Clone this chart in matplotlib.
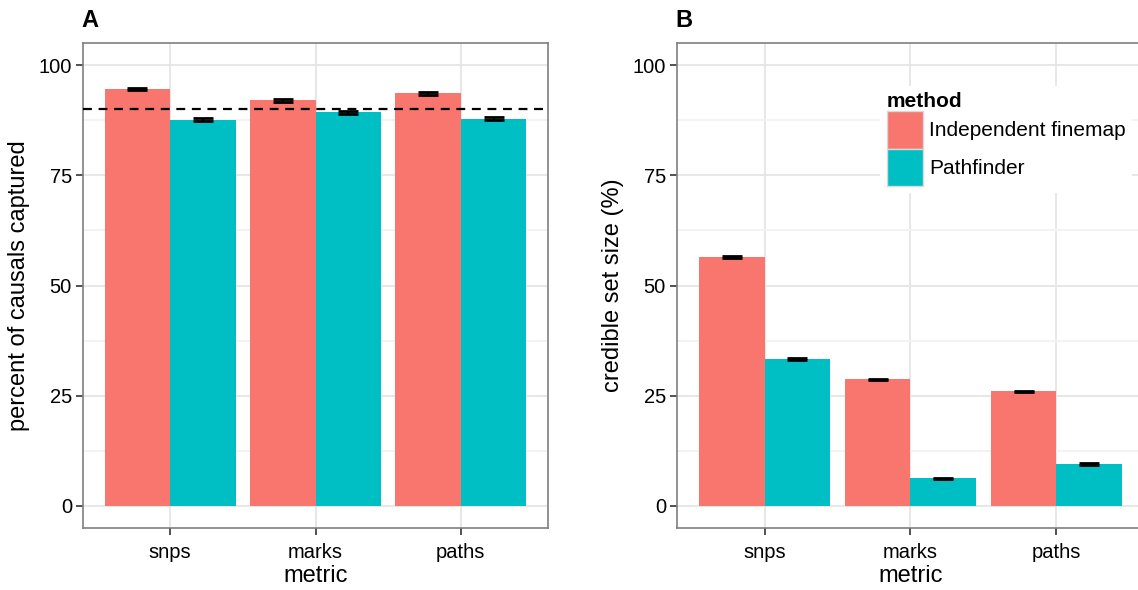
import numpy as np
import matplotlib.pyplot as plt
from matplotlib.patches import Patch

plt.rcParams['font.family'] = ['Liberation Sans', 'DejaVu Sans']

metrics = ['snps', 'marks', 'paths']
methods = ['Independent finemap', 'Pathfinder']
colors = ['#F8766D', '#00BFC4']

# panel A: percent of causals captured
captured = {'Independent finemap': [94.6, 92.0, 93.6],
            'Pathfinder': [87.6, 89.3, 87.8]}
captured_err = {'Independent finemap': [0.3, 0.4, 0.4],
                'Pathfinder': [0.4, 0.35, 0.35]}

# panel B: credible set size (%)
setsize = {'Independent finemap': [56.4, 28.7, 26.0],
           'Pathfinder': [33.3, 6.3, 9.5]}
setsize_err = {'Independent finemap': [0.25, 0.15, 0.15],
               'Pathfinder': [0.2, 0.15, 0.15]}

target = 90

W, H = 1138, 590
fig = plt.figure(figsize=(W / 100, H / 100), dpi=100)


def px_axes(l, r, t, b):
    return fig.add_axes([l / W, 1 - b / H, (r - l) / W, (b - t) / H])


def draw_panel(ax, vals, errs, ylabel, letter):
    x = np.arange(1, len(metrics) + 1)
    w = 0.45
    for i, m in enumerate(methods):
        pos = x + (i - 0.5) * w
        ax.bar(pos, vals[m], width=w, color=colors[i], zorder=2)
        ax.errorbar(pos, vals[m], yerr=errs[m], fmt='none', ecolor='black',
                    elinewidth=1.5, capsize=7, capthick=2, zorder=3)
    ax.set_xlim(0.4, 3.6)
    ax.set_ylim(-5, 105)
    ax.set_yticks([0, 25, 50, 75, 100])
    ax.set_yticks([12.5, 37.5, 62.5, 87.5], minor=True)
    ax.set_xticks(x)
    ax.set_xticklabels(metrics)
    ax.grid(which='major', color='#e5e5e5', linewidth=1.3, zorder=0)
    ax.grid(which='minor', axis='y', color='#f2f2f2', linewidth=1.3, zorder=0)
    ax.tick_params(which='minor', length=0)
    ax.tick_params(which='major', length=5, width=1.2, color='#333333',
                   labelsize=14.5, labelcolor='black', pad=3)
    ax.tick_params(axis='x', pad=6)
    for s in ax.spines.values():
        s.set_color('#7f7f7f')
        s.set_linewidth(1.2)
    ax.set_axisbelow(True)
    ax.set_xlabel('metric', fontsize=17, labelpad=2)
    ax.set_ylabel(ylabel, fontsize=17, labelpad=6)
    ax.text(-0.003, 1.022, letter, transform=ax.transAxes, fontsize=17,
            fontweight='bold', ha='left', va='bottom')


axA = px_axes(83, 548, 43, 528)
draw_panel(axA, captured, captured_err, 'percent of causals captured', 'A')
axA.axhline(target, color='black', linestyle=(0, (4, 3)), linewidth=1.6, zorder=4)

axB = px_axes(677, 1144, 43, 528)
draw_panel(axB, setsize, setsize_err, 'credible set size (%)', 'B')

handles = [Patch(facecolor=c, edgecolor='#d9d9d9', label=m)
           for c, m in zip(colors, methods)]
leg = axB.legend(handles=handles, title='method', loc='upper left',
                 bbox_to_anchor=(0.413, 0.933), frameon=True, fontsize=15,
                 title_fontproperties={'weight': 'bold', 'size': 15},
                 handlelength=1.75, handleheight=2.4, handletextpad=0.3,
                 labelspacing=0.0, borderpad=0.3)
leg.get_frame().set_edgecolor('none')
leg.get_frame().set_facecolor('white')
leg.get_frame().set_alpha(1)
leg._legend_box.align = 'left'

fig.savefig('out.png', dpi=100)
